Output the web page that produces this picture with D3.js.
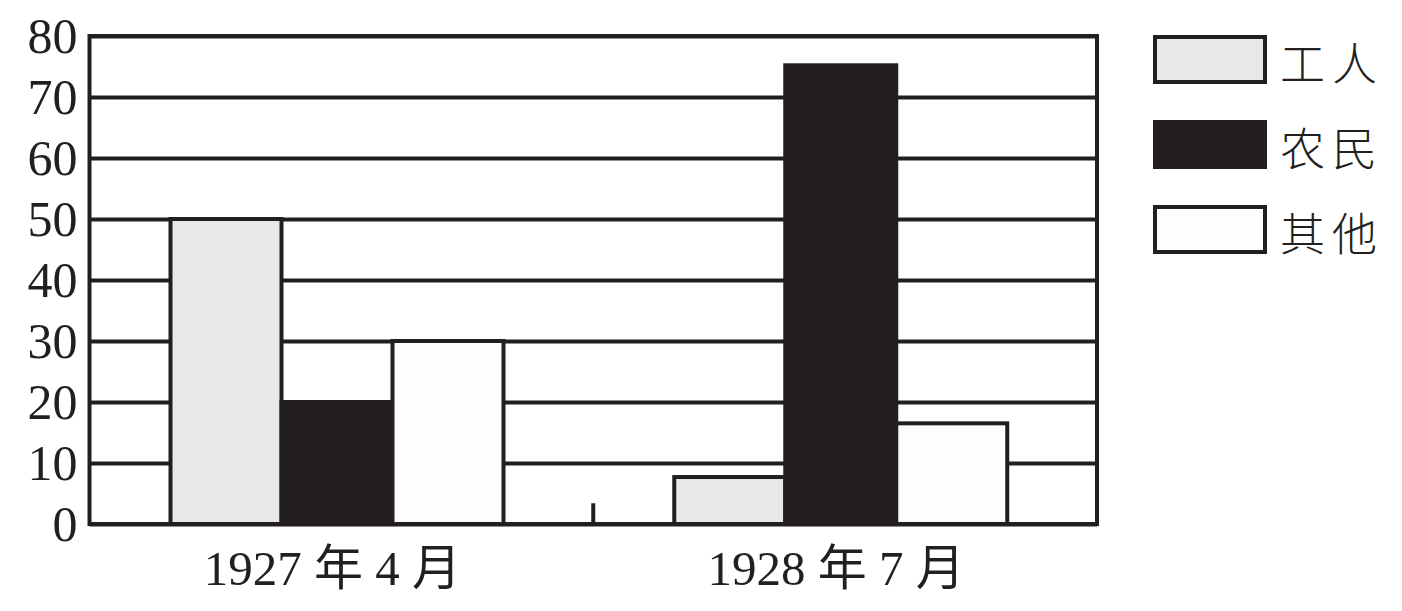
<!DOCTYPE html>
<html>
<head>
<meta charset="utf-8">
<script src="https://cdn.jsdelivr.net/npm/d3@7"></script>
<style>
  body { margin: 0; background: #fff; }
  svg { display: block; }
</style>
</head>
<body>
<div id="chart"></div>
<script>
// data
var groups = ["1927 年 4 月", "1928 年 7 月"];
var series = ["工人", "农民", "其他"];
var workers = [50, 7.7];
var peasants = [20, 75.2];
var others = [30, 16.5];
var yTicks = [0, 10, 20, 30, 40, 50, 60, 70, 80];

var ink = "#231f20";
var fills = ["#e8e8e8", ink, "#fdfdfd"];

var svgWidth = 1402, svgHeight = 611;
var margin = { top: 36, right: 305, bottom: 87, left: 89.5 };
var width = svgWidth - margin.left - margin.right;
var height = svgHeight - margin.top - margin.bottom;

var svg = d3.select("#chart")
  .append("svg")
  .attr("width", svgWidth)
  .attr("height", svgHeight);

var g = svg.append("g")
  .attr("transform", "translate(" + margin.left + "," + margin.top + ")");

var x = d3.scaleBand().domain(groups).range([0, width]);
var xInner = d3.scaleBand().domain(series).range([81, 414]);
var y = d3.scaleLinear().domain([0, 80]).range([height, 0]);

var color = d3.scaleOrdinal().domain(series).range(fills);

// gridlines
g.append("g")
  .attr("class", "grid")
  .call(d3.axisLeft(y).tickValues(yTicks).tickSize(-width).tickFormat(""))
  .call(function(s) {
    s.select(".domain").remove();
    s.selectAll("line").attr("stroke", ink).attr("stroke-width", 4);
  });

// y labels
g.append("g")
  .call(d3.axisLeft(y).tickValues(yTicks).tickSize(0).tickPadding(12))
  .call(function(s) {
    s.select(".domain").remove();
    s.selectAll("text")
      .attr("font-family", "'Liberation Serif', serif")
      .attr("font-size", 50)
      .attr("fill", ink);
  });

// bars
var rows = groups.map(function(grp, i) {
  return { group: grp, values: [workers[i], peasants[i], others[i]] };
});

var grpSel = g.selectAll(".bars")
  .data(rows)
  .enter().append("g")
  .attr("transform", function(d) { return "translate(" + x(d.group) + ",0)"; });

grpSel.selectAll("rect")
  .data(function(d) { return d.values.map(function(v, j) { return { key: series[j], value: v }; }); })
  .enter().append("rect")
  .attr("x", function(d) { return xInner(d.key); })
  .attr("width", xInner.bandwidth())
  .attr("y", function(d) { return y(d.value); })
  .attr("height", function(d) { return height - y(d.value); })
  .attr("fill", function(d) { return color(d.key); })
  .attr("stroke", ink)
  .attr("stroke-width", 4);

// small tick between the groups
g.selectAll(".sep")
  .data(groups.slice(1))
  .enter().append("line")
  .attr("x1", function(d) { return x(d); })
  .attr("x2", function(d) { return x(d); })
  .attr("y1", y(0))
  .attr("y2", y(3.4))
  .attr("stroke", ink)
  .attr("stroke-width", 4);

// frame
g.append("rect")
  .attr("width", width)
  .attr("height", height)
  .attr("fill", "none")
  .attr("stroke", ink)
  .attr("stroke-width", 4);

// x labels
g.selectAll(".xlab")
  .data(groups)
  .enter().append("text")
  .attr("x", function(d) { return x(d) + x.bandwidth() / 2 - 9; })
  .attr("y", height + 61)
  .attr("text-anchor", "middle")
  .attr("font-family", "'Liberation Serif', 'Noto Sans CJK SC', serif")
  .attr("font-size", 49)
  .attr("fill", ink)
  .text(function(d) { return d; });

// legend
var legend = svg.append("g")
  .attr("transform", "translate(1155,37)");

var item = legend.selectAll(".item")
  .data(series)
  .enter().append("g")
  .attr("transform", function(d, i) { return "translate(0," + i * 85 + ")"; });

item.append("rect")
  .attr("width", 110)
  .attr("height", 45)
  .attr("fill", function(d) { return color(d); })
  .attr("stroke", ink)
  .attr("stroke-width", 4);

item.append("text")
  .attr("x", 125)
  .attr("y", 24)
  .attr("dominant-baseline", "central")
  .attr("font-family", "'Noto Sans CJK SC', sans-serif")
  .attr("font-weight", 300)
  .attr("font-size", 45)
  .attr("letter-spacing", 7)
  .attr("fill", ink)
  .text(function(d) { return d; });
</script>
</body>
</html>
